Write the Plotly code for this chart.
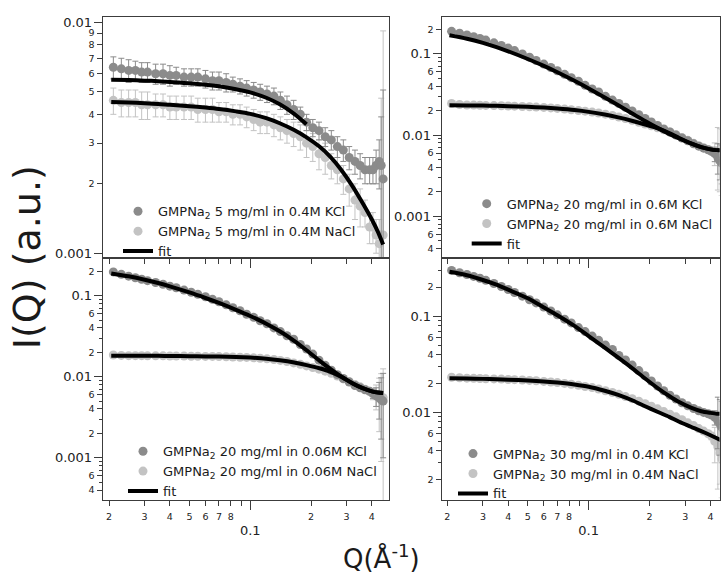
import plotly.graph_objects as go

# ---------------- data ----------------
Q = [0.021, 0.023, 0.025, 0.027, 0.029, 0.031, 0.034, 0.037, 0.040, 0.043,
     0.047, 0.051, 0.055, 0.060, 0.065, 0.070, 0.076, 0.082, 0.089, 0.096,
     0.104, 0.112, 0.121, 0.131, 0.141, 0.152, 0.164, 0.177, 0.190, 0.204,
     0.219, 0.235, 0.252, 0.270, 0.289, 0.309, 0.330, 0.350, 0.370, 0.390,
     0.405, 0.420, 0.435, 0.445, 0.455]

FQ = [0.0205, 0.025, 0.03, 0.035, 0.04, 0.05, 0.06, 0.07, 0.085, 0.1, 0.12,
      0.14, 0.165, 0.19, 0.22, 0.25, 0.28, 0.32, 0.36, 0.40, 0.43, 0.455]

# panel 1 : 5 mg/ml, 0.4M
P1_KCL = [0.0064, 0.0063, 0.0062, 0.0062, 0.0061, 0.0061, 0.0060, 0.0060, 0.0059, 0.0059,
          0.0058, 0.0058, 0.0058, 0.0057, 0.0056, 0.0056, 0.0055, 0.0054, 0.0053, 0.0052,
          0.0051, 0.0050, 0.0049, 0.0048, 0.0046, 0.0044, 0.0042, 0.0040, 0.0037, 0.0035,
          0.0034, 0.0032, 0.0031, 0.0029, 0.0028, 0.0026, 0.0025, 0.0024, 0.0023, 0.0023,
          0.0023, 0.0024, 0.0025, 0.0024, 0.0021]
P1_KCL_ERR = [0.0007, 0.0007, 0.0007, 0.0006, 0.0006, 0.0006, 0.0006, 0.0006, 0.0006, 0.0005,
              0.0005, 0.0005, 0.0005, 0.0005, 0.0005, 0.0005, 0.0005, 0.0004, 0.0004, 0.0004,
              0.0004, 0.0004, 0.0004, 0.0004, 0.0004, 0.0004, 0.0004, 0.0003, 0.0003, 0.0003,
              0.0003, 0.0003, 0.0003, 0.0003, 0.0003, 0.0003, 0.0003, 0.0003, 0.0003, 0.0003,
              0.0003, 0.0004, 0.0006, 0.0015, 0.0030]
P1_NACL = [0.0046, 0.0045, 0.0045, 0.0045, 0.0044, 0.0044, 0.0044, 0.0044, 0.0043, 0.0043,
           0.0043, 0.0043, 0.0042, 0.0042, 0.0042, 0.0041, 0.0041, 0.0040, 0.0040, 0.0039,
           0.0038, 0.0037, 0.0037, 0.0036, 0.0035, 0.0034, 0.0033, 0.0032, 0.0030, 0.0029,
           0.0027, 0.0026, 0.0024, 0.0023, 0.0021, 0.0019, 0.0017, 0.0016, 0.0015, 0.0013,
           0.0013, 0.0012, 0.0011, 0.0012, 0.0012]
P1_NACL_ERR = [0.0006, 0.0006, 0.0006, 0.0006, 0.0006, 0.0006, 0.0005, 0.0005, 0.0005, 0.0005,
               0.0005, 0.0005, 0.0005, 0.0005, 0.0005, 0.0004, 0.0004, 0.0004, 0.0004, 0.0004,
               0.0004, 0.0004, 0.0004, 0.0004, 0.0004, 0.0004, 0.0004, 0.0004, 0.0004, 0.0004,
               0.0004, 0.0004, 0.0003, 0.0003, 0.0003, 0.0003, 0.0003, 0.0003, 0.0002, 0.0002,
               0.0002, 0.0002, 0.0003, 0.0035, 0.0080]
P1_FIT_KCL = [0.00565, 0.00563, 0.0056, 0.00557, 0.00553, 0.00546, 0.00538, 0.00529, 0.00514,
              0.00498, 0.00472, 0.00442, 0.00402, 0.00362, None, None, None, None, None, None,
              None, None]
P1_FIT_NACL = [0.00453, 0.0045, 0.00447, 0.00444, 0.0044, 0.00434, 0.00428, 0.00422, 0.00412,
               0.00402, 0.00385, 0.00366, 0.00342, 0.00318, 0.0029, 0.00261, 0.00232, 0.00196,
               0.00165, 0.0014, 0.00123, 0.00109]

# panel 2 : 20 mg/ml, 0.6M
P2_KCL = [0.190, 0.180, 0.171, 0.163, 0.155, 0.148, 0.137, 0.127, 0.118, 0.110,
          0.100, 0.091, 0.083, 0.075, 0.068, 0.062, 0.056, 0.051, 0.046, 0.041,
          0.037, 0.034, 0.030, 0.027, 0.0245, 0.0220, 0.0198, 0.0178, 0.0160, 0.0145,
          0.0131, 0.0119, 0.0109, 0.0100, 0.0092, 0.0085, 0.0078, 0.0073, 0.0069, 0.0066,
          0.0063, 0.0059, 0.0053, 0.0048, 0.0045]
P2_NACL = [0.0245, 0.0238, 0.0235, 0.0234, 0.0233, 0.0232, 0.0231, 0.0230, 0.0228, 0.0227,
           0.0225, 0.0223, 0.0221, 0.0219, 0.0216, 0.0213, 0.0209, 0.0205, 0.0201, 0.0197,
           0.0192, 0.0187, 0.0181, 0.0174, 0.0167, 0.0160, 0.0152, 0.0144, 0.0137, 0.0130,
           0.0123, 0.0116, 0.0109, 0.0101, 0.0093, 0.0086, 0.0079, 0.0074, 0.0070, 0.0066,
           0.0063, 0.0060, 0.0056, 0.0050, 0.0048]
P2_FIT_KCL = [0.170, 0.154, 0.1367, 0.1213, 0.1078, 0.0866, 0.0712, 0.0595, 0.0467, 0.0376,
              0.0291, 0.0233, 0.0183, 0.0149, 0.01218, 0.01034, 0.00908, 0.00789, 0.0071,
              0.00666, 0.00652, 0.00649]
P2_FIT_NACL = [0.0233, 0.0232, 0.0231, 0.0229, 0.0227, 0.0223, 0.0218, 0.0212, 0.0203, 0.0193,
               0.0179, 0.0165, 0.0149, 0.0135, 0.0121, 0.0106, 0.0092, 0.0079, 0.0071,
               0.00666, 0.00652, 0.00649]

# panel 3 : 20 mg/ml, 0.06M
P3_KCL = [0.196, 0.183, 0.174, 0.166, 0.159, 0.153, 0.145, 0.138, 0.131, 0.125,
          0.117, 0.110, 0.104, 0.097, 0.090, 0.084, 0.077, 0.071, 0.065, 0.059,
          0.054, 0.049, 0.045, 0.040, 0.036, 0.032, 0.029, 0.025, 0.022, 0.019,
          0.0160, 0.0138, 0.0120, 0.0106, 0.0095, 0.0086, 0.0078, 0.0073, 0.0069, 0.0066,
          0.0062, 0.0058, 0.0055, 0.0052, 0.0050]
P3_NACL = [0.0185, 0.0183, 0.0182, 0.0182, 0.0182, 0.0181, 0.0181, 0.0181, 0.0180, 0.0180,
           0.0180, 0.0179, 0.0179, 0.0178, 0.0178, 0.0177, 0.0176, 0.0175, 0.0174, 0.0173,
           0.0171, 0.0169, 0.0166, 0.0163, 0.0159, 0.0154, 0.0148, 0.0142, 0.0136, 0.0130,
           0.0124, 0.0117, 0.0110, 0.0102, 0.0094, 0.0087, 0.0080, 0.0075, 0.0070, 0.0066,
           0.0062, 0.0059, 0.0056, 0.0054, 0.0055]
P3_FIT_KCL = [0.188, 0.173, 0.1573, 0.143, 0.1302, 0.1094, 0.0935, 0.0812, 0.0668, 0.0561,
              0.0451, 0.0363, 0.0277, 0.0212, 0.0158, 0.01239, 0.01016, 0.00832, 0.00722,
              0.0066, 0.00637, 0.0063]
P3_FIT_NACL = [0.0182, 0.0182, 0.0181, 0.0181, 0.0180, 0.0179, 0.0178, 0.0177, 0.0175, 0.0172,
               0.0167, 0.0160, 0.0150, 0.0139, 0.0127, 0.0115, 0.0101, 0.00832, 0.00722,
               0.0066, 0.00637, 0.0063]

# panel 4 : 30 mg/ml, 0.4M
P4_KCL = [0.298, 0.282, 0.270, 0.258, 0.247, 0.235, 0.218, 0.203, 0.189, 0.176,
          0.161, 0.148, 0.137, 0.124, 0.113, 0.103, 0.093, 0.085, 0.076, 0.069,
          0.062, 0.056, 0.050, 0.045, 0.039, 0.035, 0.031, 0.0272, 0.0240, 0.0212,
          0.0188, 0.0168, 0.0151, 0.0138, 0.0126, 0.0117, 0.0110, 0.0104, 0.0100, 0.0097,
          0.0094, 0.0089, 0.0082, 0.0076, 0.0070]
P4_NACL = [0.0232, 0.0229, 0.0227, 0.0226, 0.0225, 0.0224, 0.0223, 0.0222, 0.0220, 0.0219,
           0.0217, 0.0215, 0.0213, 0.0210, 0.0207, 0.0204, 0.0200, 0.0196, 0.0191, 0.0186,
           0.0181, 0.0175, 0.0168, 0.0161, 0.0154, 0.0146, 0.0139, 0.0131, 0.0123, 0.0116,
           0.0109, 0.0102, 0.0096, 0.0090, 0.0084, 0.0078, 0.0073, 0.0068, 0.0064, 0.0060,
           0.0057, 0.0050, 0.0044, 0.0038, 0.0033]
P4_FIT_KCL = [0.288, 0.265, 0.237, 0.212, 0.188, 0.153, 0.123, 0.102, 0.079, 0.062, 0.047,
              0.037, 0.0285, 0.0225, 0.0178, 0.0148, 0.0128, 0.0112, 0.0103, 0.0099, 0.0097, 0.0097]
P4_FIT_NACL = [0.0226, 0.0225, 0.0223, 0.0221, 0.0219, 0.0215, 0.0210, 0.0204, 0.0195, 0.0185,
               0.0168, 0.0152, 0.0133, 0.0116, 0.0101, 0.0090, 0.0080, 0.0071, 0.0064, 0.0058,
               0.0054, 0.0051]

# error bars visible only on the last five points of panels 2-4 (up / down)
P2_KCL_TAIL = ([0.0004, 0.0012, 0.0025, 0.0030, 0.0030], [0.0004, 0.0012, 0.0020, 0.0020, 0.0020])
P2_NACL_TAIL = ([0.0005, 0.0020, 0.0068, 0.0070, 0.0070], [0.0005, 0.0018, 0.0035, 0.0030, 0.0030])
P3_KCL_TAIL = ([0.0008, 0.0015, 0.0030, 0.0045, 0.0060], [0.0008, 0.0015, 0.0025, 0.0035, 0.0040])
P3_NACL_TAIL = ([0.0010, 0.0020, 0.0040, 0.0055, 0.0070], [0.0010, 0.0020, 0.0035, 0.0045, 0.0054])
P4_KCL_TAIL = ([0.0005, 0.0015, 0.0062, 0.0060, 0.0060], [0.0005, 0.0015, 0.0040, 0.0040, 0.0040])
P4_NACL_TAIL = ([0.0005, 0.0020, 0.0035, 0.0030, 0.0030], [0.0005, 0.0020, 0.0028, 0.0020, 0.0020])

NAMES = [("GMPNa<sub>2</sub> 5 mg/ml in 0.4M KCl", "GMPNa<sub>2</sub> 5 mg/ml in 0.4M NaCl"),
         ("GMPNa<sub>2</sub> 20 mg/ml in 0.6M KCl", "GMPNa<sub>2</sub> 20 mg/ml in 0.6M NaCl"),
         ("GMPNa<sub>2</sub> 20 mg/ml in 0.06M KCl", "GMPNa<sub>2</sub> 20 mg/ml in 0.06M NaCl"),
         ("GMPNa<sub>2</sub> 30 mg/ml in 0.4M KCl", "GMPNa<sub>2</sub> 30 mg/ml in 0.4M NaCl")]

X_TICKS = [0.02, 0.03, 0.04, 0.05, 0.06, 0.07, 0.08, 0.2, 0.3, 0.4]
X_TICK_TEXT = ['2', '3', '4', '5', '6', '7', '8', '2', '3', '4']
X_MINOR = [0.09]

# ---------------- styling / layout ----------------
W, H = 721, 574
FONT = "DejaVu Sans"
AX = "#3c3c3c"
DARK = "#8b8b8b"
LIGHT = "#c3c3c3"

PANEL_X = [(102.7, 388.5), (441.7, 719.5), (102.7, 388.5), (441.7, 719.5)]
PANEL_Y = [(15.7, 259.0), (15.7, 259.0), (259.0, 502.7), (259.0, 502.7)]
X_RANGE = [(-1.7305, -0.3155), (-1.7266, -0.3534), (-1.7305, -0.3155), (-1.7266, -0.3534)]
Y_RANGE = [(-3.0215, -1.9742), (-3.5177, -0.5398), (-3.523, -0.5383), (-2.911, -0.399)]

Y_LAB = [
    ([0.002, 0.003, 0.004, 0.005, 0.006, 0.007, 0.008, 0.009], ['2', '3', '4', '5', '6', '7', '8', '9'], []),
    ([0.0004, 0.0006, 0.002, 0.004, 0.006, 0.02, 0.04, 0.06, 0.2], ['4', '6', '2', '4', '6', '2', '4', '6', '2'],
     [0.0005, 0.0007, 0.0008, 0.0009, 0.003, 0.005, 0.007, 0.008, 0.009, 0.03, 0.05, 0.07, 0.08, 0.09]),
    ([0.0004, 0.0006, 0.002, 0.004, 0.006, 0.02, 0.04, 0.06, 0.2], ['4', '6', '2', '4', '6', '2', '4', '6', '2'],
     [0.0005, 0.0007, 0.0008, 0.0009, 0.003, 0.005, 0.007, 0.008, 0.009, 0.03, 0.05, 0.07, 0.08, 0.09]),
    ([0.002, 0.004, 0.006, 0.02, 0.04, 0.06, 0.2], ['2', '4', '6', '2', '4', '6', '2'],
     [0.003, 0.005, 0.007, 0.008, 0.009, 0.03, 0.05, 0.07, 0.08, 0.09, 0.3]),
]
Y_DEC = [([0.001, 0.01], ['0.001', '0.01']),
         ([0.001, 0.01, 0.1], ['0.001', '0.01', '0.1']),
         ([0.001, 0.01, 0.1], ['0.001', '0.01', '0.1']),
         ([0.01, 0.1], ['0.01', '0.1'])]

LEG_POS = [(118, 196.7), (466.7, 189.0), (123, 438.3), (453, 440.7)]


def tail_err(tail):
    up, dn = tail
    pad = [0] * (len(Q) - len(up))
    return pad + up, pad + dn


panels = [
    (P1_KCL, (P1_KCL_ERR, P1_KCL_ERR), P1_NACL, (P1_NACL_ERR, P1_NACL_ERR), P1_FIT_KCL, P1_FIT_NACL),
    (P2_KCL, tail_err(P2_KCL_TAIL), P2_NACL, tail_err(P2_NACL_TAIL), P2_FIT_KCL, P2_FIT_NACL),
    (P3_KCL, tail_err(P3_KCL_TAIL), P3_NACL, tail_err(P3_NACL_TAIL), P3_FIT_KCL, P3_FIT_NACL),
    (P4_KCL, tail_err(P4_KCL_TAIL), P4_NACL, tail_err(P4_NACL_TAIL), P4_FIT_KCL, P4_FIT_NACL),
]

fig = go.Figure()
layout = {}

for i, (kcl, kerr, nacl, nerr, fk, fn) in enumerate(panels):
    n = i + 1
    xa = 'x' if n == 1 else f'x{n}'
    ya = 'y' if n == 1 else f'y{n}'
    leg = 'legend' if n == 1 else f'legend{n}'
    kname, nname = NAMES[i]

    fig.add_trace(go.Scatter(
        x=Q, y=nacl, mode='markers', name=nname, legend=leg, legendrank=2,
        marker=dict(color=LIGHT, size=9, line=dict(width=0)),
        error_y=dict(type='data', symmetric=False, array=nerr[0], arrayminus=nerr[1],
                     color=LIGHT, thickness=1, width=3),
        xaxis=xa, yaxis=ya, hoverinfo='skip'))
    fig.add_trace(go.Scatter(
        x=Q, y=kcl, mode='markers', name=kname, legend=leg, legendrank=1,
        marker=dict(color=DARK, size=9, line=dict(width=0)),
        error_y=dict(type='data', symmetric=False, array=kerr[0], arrayminus=kerr[1],
                     color=DARK, thickness=1, width=3),
        xaxis=xa, yaxis=ya, hoverinfo='skip'))
    fig.add_trace(go.Scatter(
        x=FQ, y=fn, mode='lines', name='fit', legend=leg, legendrank=3,
        line=dict(color='black', width=4, shape='spline', smoothing=0.8),
        xaxis=xa, yaxis=ya, hoverinfo='skip'))
    fig.add_trace(go.Scatter(
        x=FQ, y=fk, mode='lines', name='fit', showlegend=False, legend=leg,
        line=dict(color='black', width=4, shape='spline', smoothing=0.8),
        xaxis=xa, yaxis=ya, hoverinfo='skip'))

    x0, x1 = PANEL_X[i]
    t, b = PANEL_Y[i]
    xdom = [x0 / W, x1 / W]
    ydom = [1 - b / H, 1 - t / H]
    bottom = n in (3, 4)

    xkey = 'xaxis' if n == 1 else f'xaxis{n}'
    ykey = 'yaxis' if n == 1 else f'yaxis{n}'
    layout[xkey] = dict(
        type='log', range=list(X_RANGE[i]), domain=xdom, anchor=ya,
        showline=True, linecolor=AX, linewidth=1.3, mirror=True,
        ticks='outside', ticklen=5, tickwidth=1, tickcolor=AX,
        tickmode='array', tickvals=X_TICKS, ticktext=X_TICK_TEXT,
        showticklabels=bottom, ticklabelstandoff=2,
        tickfont=dict(family=FONT, size=9.5, color='#222'),
        minor=dict(tickmode='array', tickvals=X_MINOR, ticks='outside', ticklen=5,
                   tickwidth=1, tickcolor=AX, showgrid=False),
        showgrid=False, zeroline=False, fixedrange=True)
    labv, labt, unl = Y_LAB[i]
    layout[ykey] = dict(
        type='log', range=list(Y_RANGE[i]), domain=ydom, anchor=xa,
        showline=True, linecolor=AX, linewidth=1.3, mirror=True,
        ticks='outside', ticklen=5, tickwidth=1, tickcolor=AX,
        tickmode='array', tickvals=labv, ticktext=labt,
        tickfont=dict(family=FONT, size=9.5, color='#222'),
        minor=dict(tickmode='array', tickvals=unl, ticks='outside', ticklen=3,
                   tickwidth=1, tickcolor=AX, showgrid=False),
        showgrid=False, zeroline=False, fixedrange=True)

    # overlay axes carrying the decade ticks and labels
    ox = f'xaxis{n + 4}'
    oy = f'yaxis{n + 4}'
    layout[ox] = dict(
        type='log', range=list(X_RANGE[i]), overlaying=xa, anchor=ya, side='bottom',
        showline=False, ticks='outside', ticklen=9, tickwidth=1.3, tickcolor=AX,
        tickmode='array', tickvals=[0.1], ticktext=['0.1'], showticklabels=bottom,
        ticklabelstandoff=9,
        tickfont=dict(family=FONT, size=13, color='#222'),
        showgrid=False, zeroline=False, fixedrange=True)
    dv, dt = Y_DEC[i]
    layout[oy] = dict(
        type='log', range=list(Y_RANGE[i]), overlaying=ya, anchor=xa, side='left',
        showline=False, ticks='outside', ticklen=8, tickwidth=1.3, tickcolor=AX,
        tickmode='array', tickvals=dv, ticktext=dt, ticklabelstandoff=-1,
        tickfont=dict(family=FONT, size=13, color='#222'),
        showgrid=False, zeroline=False, fixedrange=True)
    fig.add_trace(go.Scatter(x=[None], y=[None], xaxis=f'x{n + 4}', yaxis=f'y{n + 4}',
                             showlegend=False, hoverinfo='skip'))

    lx, ly = LEG_POS[i]
    layout[leg] = dict(x=lx / W, y=1 - ly / H, xanchor='left', yanchor='top',
                       bgcolor='rgba(0,0,0,0)', borderwidth=0, tracegroupgap=0,
                       itemwidth=30, font=dict(family=FONT, size=13, color='#1a1a1a'))

fig.update_layout(
    width=W, height=H, autosize=False,
    margin=dict(l=0, r=0, t=0, b=0),
    paper_bgcolor='white', plot_bgcolor='white',
    font=dict(family=FONT, color='#1a1a1a'),
    showlegend=True,
    annotations=[
        dict(text="I(Q) (a.u.)", x=27 / W, y=1 - 258 / H, xref='paper', yref='paper',
             xanchor='center', yanchor='middle',
             showarrow=False, textangle=-90, font=dict(family=FONT, size=38, color='#1a1a1a')),
        dict(text="Q(Å<sup>-1</sup>)", x=381 / W, y=1 - 560 / H, xref='paper', yref='paper',
             xanchor='center', yanchor='middle',
             showarrow=False, font=dict(family=FONT, size=26, color='#1a1a1a')),
    ],
    **layout)

fig.write_html("out.html", config={'displayModeBar': False},
               post_script="document.body.style.margin='0px';document.body.style.overflow='hidden';")
